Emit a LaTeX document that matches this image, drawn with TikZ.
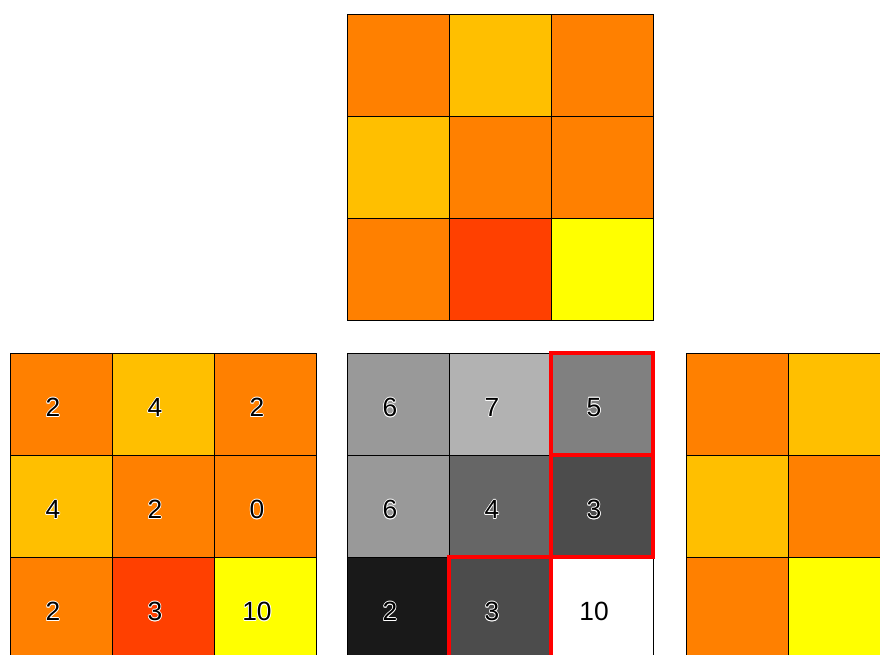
\documentclass[tikz,border=0pt]{standalone}
\usepackage{fontspec}
\setmainfont{Liberation Sans}
\usetikzlibrary{positioning}
\definecolor{corng}{RGB}{255,128,0}
\definecolor{camber}{RGB}{255,191,0}
\definecolor{cred}{RGB}{255,64,0}
\definecolor{cyel}{RGB}{255,255,0}
\tikzset{
  cell/.style={draw=black, line width=0.5pt, minimum size=2.04cm, inner sep=0pt, outer sep=0pt},
  num/.style={font=\fontsize{15}{18}\selectfont, inner sep=0pt, xshift=-0.16cm, yshift=-0.07cm},
  hilite/.style={draw=red, line width=2.3pt},
}
% number with a thin white rim
\newcommand{\halonum}[2]{%
  \foreach \dx/\dy in {-0.45/0,0.45/0,0/-0.45,0/0.45,-0.32/-0.32,0.32/-0.32,-0.32/0.32,0.32/0.32}
    \node[num, text=white] at ([xshift=\dx pt, yshift=\dy pt]#1) {#2};
  \node[num, text=black] at (#1) {#2};}

\begin{document}
\begin{tikzpicture}[x=0.02cm, y=-0.02cm]
  \useasboundingbox (0,0) rectangle (880,655);
  \clip (0,0) rectangle (880,655);
  % top: heat map
  \foreach \c [count=\k from 0] in {corng,camber,corng,camber,corng,corng,corng,cred,cyel}{
    \pgfmathtruncatemacro{\row}{div(\k,3)}
    \pgfmathtruncatemacro{\col}{mod(\k,3)}
    \node[cell, fill=\c] (t\k) at (398+102*\col, 65+102*\row) {};
  }
  % bottom left: heat map with values
  \foreach \c/\v [count=\k from 0] in {corng/2,camber/4,corng/2,camber/4,corng/2,corng/0,corng/2,cred/3,cyel/10}{
    \pgfmathtruncatemacro{\row}{div(\k,3)}
    \pgfmathtruncatemacro{\col}{mod(\k,3)}
    \node[cell, fill=\c] (l\k) at (61+102*\col, 404+102*\row) {};
    \halonum{l\k}{\v}
  }
  % bottom middle: grey levels with values
  \foreach \g/\v [count=\k from 0] in {60/6,70/7,50/5,60/6,40/4,30/3,10/2,30/3,100/10}{
    \pgfmathtruncatemacro{\row}{div(\k,3)}
    \pgfmathtruncatemacro{\col}{mod(\k,3)}
    \node[cell, fill=white!\g!black] (m\k) at (398+102*\col, 404+102*\row) {};
    \halonum{m\k}{\v}
  }
  \foreach \k in {2,5,7}
    \draw[hilite] (m\k.north west) rectangle (m\k.south east);
  % bottom right: heat map again
  \foreach \c [count=\k from 0] in {corng,camber,corng,camber,corng,corng,corng,cyel,cyel}{
    \pgfmathtruncatemacro{\row}{div(\k,3)}
    \pgfmathtruncatemacro{\col}{mod(\k,3)}
    \node[cell, fill=\c] (r\k) at (737+102*\col, 404+102*\row) {};
  }
\end{tikzpicture}
\end{document}
